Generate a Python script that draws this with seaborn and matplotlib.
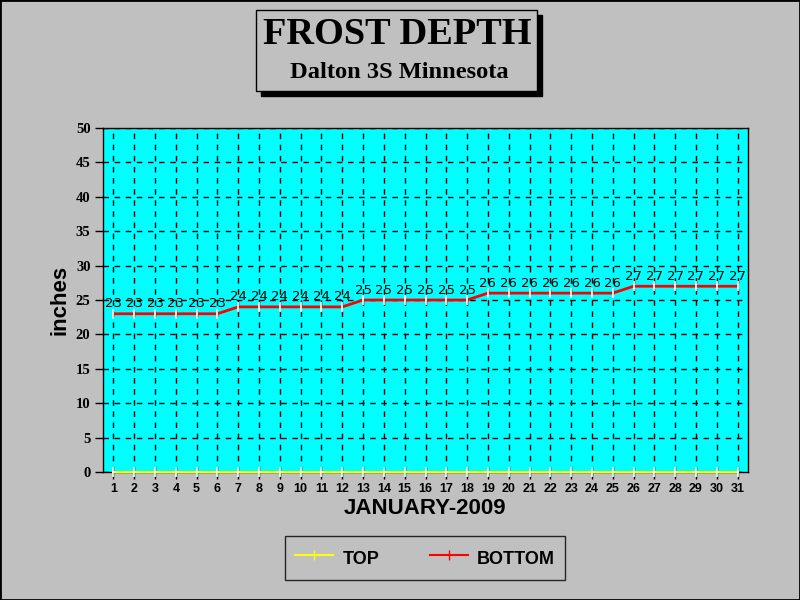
import numpy as np
import pandas as pd
import matplotlib
matplotlib.use('Agg')
import matplotlib.pyplot as plt
import seaborn as sns
from matplotlib.patches import Rectangle

# Datos
dias = list(range(1, 32))
fondo = [23] * 6 + [24] * 6 + [25] * 6 + [26] * 7 + [27] * 6
tope = [0] * 31

df = pd.DataFrame({'dia': dias + dias,
                   'pulgadas': tope + fondo,
                   'serie': ['TOP'] * 31 + ['BOTTOM'] * 31})

gris = '#c0c0c0'
fig = plt.figure(figsize=(8, 6), dpi=100, facecolor=gris)
ax = fig.add_axes([103 / 800, 1 - 472 / 600, 645 / 800, 344 / 600])
ax.set_facecolor('#00ffff')

sns.lineplot(data=df, x='dia', y='pulgadas', hue='serie',
             palette={'TOP': '#ffff00', 'BOTTOM': '#ff0000'},
             marker='|', markersize=7, markeredgewidth=1.2,
             linewidth=2, ax=ax, legend=False, zorder=5, clip_on=False)
ax.lines[0].set_linewidth(1.5)

# Etiquetas de valores
for d, v in zip(dias, fondo):
    ax.text(d, v + 0.5, str(v), ha='center', va='bottom', fontsize=9.5,
            family='DejaVu Sans', color='black', zorder=6)

ax.set_xlim(0.5, 31.5)
ax.set_ylim(0, 50)
ax.set_xticks(dias)
ax.set_yticks(range(0, 51, 5))
ax.tick_params(axis='x', labelsize=9, length=5, width=1, direction='out',
               pad=3)
ax.tick_params(axis='y', labelsize=10.5, length=6, width=1, direction='out',
               pad=3)
for lab in ax.get_xticklabels():
    lab.set_fontweight('bold')
    lab.set_family('Liberation Sans')
for lab in ax.get_yticklabels():
    lab.set_fontweight('bold')
    lab.set_family('Liberation Serif')
for t in ax.xaxis.get_ticklines():
    t.set_linestyle((0, (2, 2)))
ax.grid(True, color='black', linestyle=(0, (4, 4)), linewidth=1)
ax.set_axisbelow(True)
for s in ax.spines.values():
    s.set_color('black')
    s.set_linewidth(1)

ax.set_xlabel('JANUARY-2009', fontsize=16, fontweight='bold',
              family='Liberation Sans', labelpad=2)
ax.set_ylabel('inches', fontsize=16, fontweight='bold',
              family='Liberation Sans', labelpad=4)

# Caja del titulo con sombra
fig.patches.append(Rectangle((261 / 800, 1 - 96 / 600), 281 / 800, 81 / 600,
                             transform=fig.transFigure, facecolor='black',
                             edgecolor='black', zorder=1))
fig.patches.append(Rectangle((256 / 800, 1 - 91 / 600), 281 / 800, 81 / 600,
                             transform=fig.transFigure, facecolor=gris,
                             edgecolor='black', linewidth=1, zorder=2))
fig.text(397 / 800, 1 - 35 / 600, 'FROST DEPTH', ha='center', va='center',
         fontsize=27.6, fontweight='bold', family='Liberation Serif', zorder=3)
fig.text(399 / 800, 1 - 72 / 600, 'Dalton 3S Minnesota', ha='center',
         va='center', fontsize=17.6, fontweight='bold',
         family='Liberation Serif', zorder=3)

# Leyenda
handles = [plt.Line2D([], [], color='#ffff00', marker='|', markersize=7,
                      linewidth=1.5),
           plt.Line2D([], [], color='#ff0000', marker='|', markersize=7,
                      linewidth=1.5)]
leg = fig.legend(handles, ['TOP', 'BOTTOM'], loc='center',
                 bbox_to_anchor=(425 / 800, 1 - 558 / 600), ncol=2,
                 frameon=True, fancybox=False, facecolor=gris,
                 edgecolor='black', handlelength=2.1, columnspacing=2.8,
                 borderpad=0.55, handletextpad=0.5, handleheight=1.7,
                 prop={'family': 'Liberation Sans', 'weight': 'bold',
                       'size': 13})
leg.get_frame().set_linewidth(1)

# Borde de la figura
fig.patches.append(Rectangle((0, 0), 1, 1, transform=fig.transFigure,
                             fill=False, edgecolor='black', linewidth=2))

fig.savefig('out.png', dpi=100, facecolor=gris)
